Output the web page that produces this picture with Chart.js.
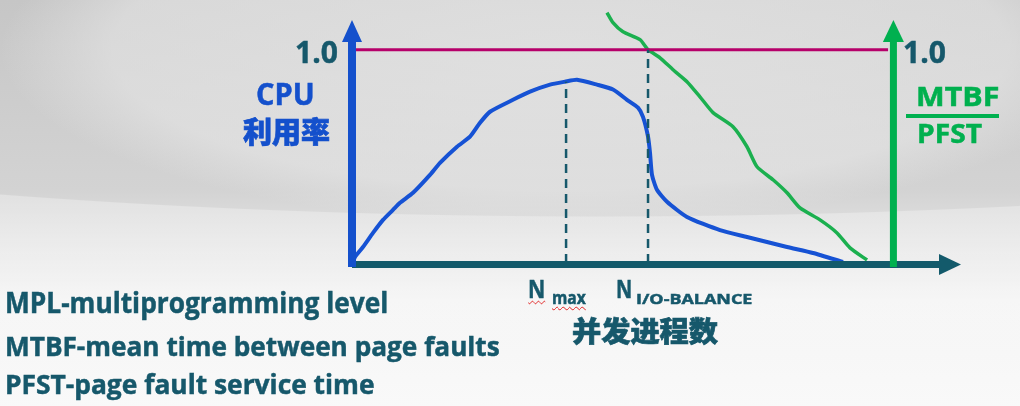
<!DOCTYPE html>
<html>
<head>
<meta charset="utf-8">
<script src="https://cdn.jsdelivr.net/npm/chart.js@4.4.0/dist/chart.umd.min.js"></script>
<style>
html, body { margin: 0; padding: 0; }
body {
    width: 1020px; height: 406px; overflow: hidden; position: relative;
    background:
        radial-gradient(ellipse 1500px 263px at 600px -46px, rgba(255,255,255,0) 99.6%, rgba(255,255,255,0.3) 100%),
        radial-gradient(ellipse 560px 175px at 560px 50px, rgba(232,232,232,0.7) 0%, rgba(232,232,232,0.55) 80%, rgba(232,232,232,0) 100%),
        linear-gradient(to bottom, #c6c6c6 0px, #d3d3d3 190px, #e2e2e2 240px, #f2f2f2 300px, #f6f6f6 406px);
}
#chart { position: absolute; left: 0; top: 0; }
.t {
    position: absolute; white-space: nowrap; line-height: 1.2;
    font-family: "Open Sans", "Noto Sans", sans-serif; font-weight: 700;
    -webkit-text-stroke: 0.5px currentColor;
    transform-origin: 0 0;
}
.t.cjk { font-family: "Noto Sans CJK SC", sans-serif; font-weight: 900; -webkit-text-stroke: 0.7px currentColor; }
.wavy { text-decoration: underline wavy #e02020; text-decoration-thickness: 1px; text-underline-offset: 2px; }
</style>
</head>
<body>
<canvas id="chart" width="1020" height="406"></canvas>
<script>
// x = number of concurrent processes (0..100), y = utilisation / MTBF:PFST ratio
const xRange = [0, 100];
const yRange = [0, 1.2];

const cpuX = [0, 0.5, 1.85, 3.54, 5.23, 6.91, 8.09, 10.29, 13.15, 14.84, 17.71, 19.9, 21.59, 23.27, 27.15, 30.02, 33.39, 35.92, 37.94, 41.32, 44.01, 46.37, 48.23, 49.07, 49.92, 50.25, 50.59, 51.43, 53.12, 56.49, 62.06, 66.61, 73.36, 77.74, 82.8];
const cpuY = [0, 0.028, 0.075, 0.141, 0.202, 0.249, 0.282, 0.329, 0.413, 0.469, 0.545, 0.592, 0.657, 0.709, 0.765, 0.803, 0.836, 0.85, 0.859, 0.836, 0.813, 0.765, 0.728, 0.685, 0.592, 0.517, 0.413, 0.343, 0.287, 0.216, 0.154, 0.122, 0.075, 0.047, 0.005];

const ratioX = [43.0, 44.01, 45.7, 48.57, 49.92, 51.94, 54.13, 56.49, 58.68, 60.88, 64.25, 66.61, 68.3, 71.0, 73.36, 75.55, 78.92, 81.79, 83.98, 86.85];
const ratioY = [1.174, 1.127, 1.084, 1.047, 1.0, 0.962, 0.906, 0.85, 0.779, 0.705, 0.639, 0.545, 0.451, 0.39, 0.329, 0.258, 0.202, 0.141, 0.071, 0.014];

const limitY = 1.0;
const limitEndX = 90.4;
const nMaxX = 36.1;
const nMaxTopY = 0.85;
const nBalanceX = 49.92;
const rightAxisX = 91.3;

const TEAL = '#16586b';
const BLUE = '#1450cc';
const GREEN = '#00b04f';

const pts = (xs, ys) => xs.map((x, i) => ({ x: x, y: ys[i] }));

const arrowsPlugin = {
    id: 'arrows',
    afterDatasetsDraw(chart) {
        const { ctx, scales: { x, y } } = chart;
        const x0 = x.getPixelForValue(0);
        const y0 = y.getPixelForValue(0);
        const xr = x.getPixelForValue(rightAxisX);
        const top = 20, headBase = 42;
        ctx.save();
        // bottom axis
        ctx.fillStyle = '#135a6b';
        ctx.fillRect(x0, y0 - 2, 940 - x0, 7);
        ctx.beginPath();
        ctx.moveTo(939, y0 - 9); ctx.lineTo(961, y0 + 1.5); ctx.lineTo(939, y0 + 12);
        ctx.closePath(); ctx.fill();
        // left axis
        ctx.fillStyle = BLUE;
        ctx.fillRect(x0 - 4, headBase - 1, 8, y0 + 5 - headBase);
        ctx.beginPath();
        ctx.moveTo(x0 - 10, headBase); ctx.lineTo(x0, top); ctx.lineTo(x0 + 10, headBase);
        ctx.closePath(); ctx.fill();
        // right axis
        ctx.fillStyle = GREEN;
        ctx.fillRect(xr - 3.5, headBase - 1, 7, y0 + 5 - headBase);
        ctx.beginPath();
        ctx.moveTo(xr - 10.5, headBase); ctx.lineTo(xr, top); ctx.lineTo(xr + 10.5, headBase);
        ctx.closePath(); ctx.fill();
        ctx.restore();
    }
};

new Chart(document.getElementById('chart'), {
    type: 'line',
    data: {
        datasets: [
            { data: [{ x: nMaxX, y: 0 }, { x: nMaxX, y: nMaxTopY }], borderColor: TEAL, borderWidth: 2.5, borderDash: [9, 6] },
            { data: [{ x: nBalanceX, y: 0 }, { x: nBalanceX, y: limitY }], borderColor: TEAL, borderWidth: 2.5, borderDash: [9, 6] },
            { data: [{ x: 0, y: limitY }, { x: limitEndX, y: limitY }], borderColor: '#b6006a', borderWidth: 3 },
            { data: pts(cpuX, cpuY), borderColor: '#1652d4', borderWidth: 4, tension: 0.2 },
            { data: pts(ratioX, ratioY), borderColor: '#1bb04f', borderWidth: 3.5, tension: 0.2 }
        ]
    },
    options: {
        responsive: false,
        animation: false,
        devicePixelRatio: 1,
        elements: { point: { radius: 0 } },
        layout: { padding: { left: 352, right: 75, top: 7, bottom: 143 } },
        scales: {
            x: { type: 'linear', min: xRange[0], max: xRange[1], display: false },
            y: { type: 'linear', min: yRange[0], max: yRange[1], display: false }
        },
        plugins: { legend: { display: false }, tooltip: { enabled: false } }
    },
    plugins: [arrowsPlugin]
});

// text labels, placed by left edge, baseline and target width
function place(html, left, base, size, color, width, cls) {
    const d = document.createElement('div');
    d.className = 't' + (cls ? ' ' + cls : '');
    d.style.fontSize = size + 'px';
    d.style.color = color;
    d.innerHTML = html + '<span class="b" style="display:inline-block;width:0;height:0"></span>';
    document.body.appendChild(d);
    const b = d.querySelector('.b');
    d.style.left = left + 'px';
    d.style.top = (base - b.offsetTop) + 'px';
    if (width) d.style.transform = 'scaleX(' + (width / d.offsetWidth) + ')';
}

place('1.0', 295, 63, 30, TEAL, 43);
place('CPU', 256, 105, 30, BLUE, 59);
place('利用率', 243, 143, 29, BLUE, 87, 'cjk');
place('1.0', 903, 63, 30, TEAL, 43);
place('MTBF', 916, 106, 26, GREEN, 83);
place('PFST', 917, 143, 26, GREEN, 65);
place('MPL-multiprogramming level', 5, 313, 28, TEAL, 383);
place('MTBF-mean time between page faults', 5, 356, 27, TEAL, 495);
place('PFST-page fault service time', 5, 394, 26, TEAL, 370);
place('<span class="wavy">N</span>', 528, 298, 25, TEAL, 17);
place('<span class="wavy">max</span>', 552, 304, 17, TEAL, 34);
place('N', 616, 298, 25, TEAL, 16);
place('I/O-BALANCE', 636, 304, 15, TEAL, 116);
place('并发进程数', 572, 342, 28, TEAL, 146, 'cjk');

const bar = document.createElement('div');
bar.style.cssText = 'position:absolute;left:906px;top:114px;width:93px;height:4px;background:' + GREEN;
document.body.appendChild(bar);
</script>
</body>
</html>
